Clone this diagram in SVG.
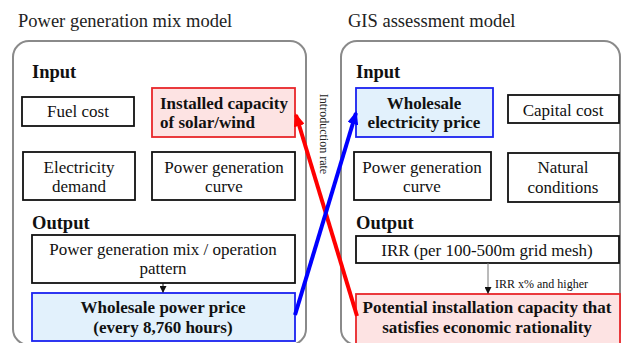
<svg xmlns="http://www.w3.org/2000/svg" width="621" height="343" viewBox="0 0 621 343" font-family="'Liberation Serif', 'Times New Roman', serif">
<style>
.title,.head,.t,.b,.bl,.small{font-family:"Liberation Serif","Times New Roman",serif;fill:#111}
.title{font-size:18.5px;fill:#222}
.head{font-size:18.5px;font-weight:bold}
.t{font-size:17px;text-anchor:middle}
.b{font-size:17px;font-weight:bold;text-anchor:middle}
.bl{font-size:17px;font-weight:bold}
.small{font-size:12px}
.panel{fill:#fff;stroke:#8a8a8a;stroke-width:2}
.box{fill:#fff;stroke:#111;stroke-width:1.8}
.red{fill:#fde3e3;stroke:#e8262a;stroke-width:1.8}
.blue{fill:#e2f1fc;stroke:#1a22f0;stroke-width:1.8}
</style>
<defs>
<marker id="ahR" markerWidth="3.3" markerHeight="2.8" refX="2.8" refY="1.4" orient="auto" markerUnits="strokeWidth"><path d="M0,0 L3.3,1.4 L0,2.8 Z" fill="#ff0000"/></marker>
<marker id="ahB" markerWidth="3.3" markerHeight="2.8" refX="2.8" refY="1.4" orient="auto" markerUnits="strokeWidth"><path d="M0,0 L3.3,1.4 L0,2.8 Z" fill="#0000ff"/></marker>
<marker id="ahK" markerWidth="7" markerHeight="7" refX="6" refY="3.5" orient="auto" markerUnits="userSpaceOnUse"><path d="M0,0 L7,3.5 L0,7 Z" fill="#111"/></marker>
</defs>

<g id="panel-left">
<text class="title" x="18" y="27">Power generation mix model</text>
<rect class="panel" x="13" y="41" width="293" height="304" rx="16"/>
<text class="head" x="32" y="78">Input</text>
<text class="head" x="32" y="229">Output</text>
</g>
<g id="panel-right">
<text class="title" x="348" y="27">GIS assessment model</text>
<rect class="panel" x="341" y="41" width="279" height="304" rx="16"/>
<text class="head" x="356" y="78">Input</text>
<text class="head" x="356" y="229">Output</text>
</g>

<g id="fuel-cost"><rect class="box" x="22" y="97" width="112" height="29"/><text class="t" x="78" y="117">Fuel cost</text></g>
<g id="installed-capacity"><rect class="red" x="152" y="88" width="143" height="49"/><text class="bl" x="160" y="109">Installed capacity</text><text class="bl" x="160" y="128">of solar/wind</text></g>
<g id="electricity-demand"><rect class="box" x="23" y="152" width="112" height="48"/><text class="t" x="79" y="173">Electricity</text><text class="t" x="79" y="192">demand</text></g>
<g id="pg-curve-left"><rect class="box" x="152" y="152" width="143" height="48"/><text class="t" x="224" y="173">Power generation</text><text class="t" x="224" y="192">curve</text></g>
<g id="mix-pattern"><rect class="box" x="32" y="235" width="263" height="48"/><text class="t" x="163" y="255">Power generation mix / operation</text><text class="t" x="163" y="274">pattern</text></g>
<g id="wholesale-power-price"><rect class="blue" x="32" y="293" width="263" height="48"/><text class="b" x="163" y="313">Wholesale power price</text><text class="b" x="163" y="333">(every 8,760 hours)</text></g>

<g id="wholesale-electricity-price"><rect class="blue" x="356" y="88" width="137" height="49"/><text class="b" x="424" y="109">Wholesale</text><text class="b" x="424" y="128">electricity price</text></g>
<g id="capital-cost"><rect class="box" x="508" y="95" width="111" height="28"/><text class="t" x="563" y="116">Capital cost</text></g>
<g id="pg-curve-right"><rect class="box" x="354" y="152" width="137" height="48"/><text class="t" x="422" y="173">Power generation</text><text class="t" x="422" y="192">curve</text></g>
<g id="natural-conditions"><rect class="box" x="508" y="153" width="111" height="49"/><text class="t" x="563" y="173">Natural</text><text class="t" x="563" y="193">conditions</text></g>
<g id="irr"><rect class="box" x="356" y="236" width="263" height="27"/><text class="t" x="487" y="256">IRR (per 100-500m grid mesh)</text></g>
<g id="potential-capacity"><rect class="red" x="356" y="294" width="264" height="50"/><text class="b" x="487" y="313">Potential installation capacity that</text><text class="b" x="487" y="333">satisfies economic rationality</text></g>

<g id="connectors">
<line x1="163" y1="283" x2="163" y2="292" stroke="#111" stroke-width="1" marker-end="url(#ahK)"/>
<line x1="488" y1="263" x2="488" y2="293" stroke="#777" stroke-width="1" marker-end="url(#ahK)"/>
<text class="small" x="495" y="288">IRR x% and higher</text>
<line x1="357" y1="316" x2="296" y2="115" stroke="#ff0000" stroke-width="4" marker-end="url(#ahR)"/>
<line x1="295" y1="315" x2="356" y2="113" stroke="#0000ff" stroke-width="4" marker-end="url(#ahB)"/>
<text class="small" transform="translate(320,134) rotate(90)" text-anchor="middle" style="fill:#222">Introduction rate</text>
</g>
</svg>
